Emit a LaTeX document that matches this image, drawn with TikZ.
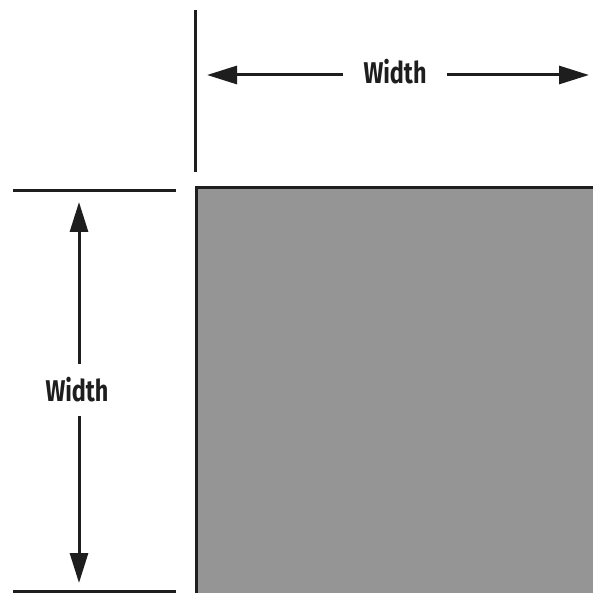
\documentclass[tikz,border=0pt]{standalone}
\usepackage{fontspec}
\setmainfont{Fira Sans}[BoldFont={Fira Sans Bold}]
\newfontfamily\lblfont{Fira Sans Bold}[FakeStretch=0.78]
\usetikzlibrary{arrows.meta}
\definecolor{fillgray}{HTML}{959595}
\definecolor{inkdark}{HTML}{1E1E1E}
\tikzset{
  dimline/.style={draw=inkdark, line width=3pt},
  dimarrow/.style={draw=inkdark, line width=3pt, -{Triangle[length=30pt,width=18pt]}},
  dimlabel/.style={inner sep=0pt, font=\lblfont\fontsize{30}{32}\selectfont, text=inkdark},
}
\begin{document}
\begin{tikzpicture}[x=1pt,y=-1pt]
\useasboundingbox (0,0) rectangle (593,593);
\begin{scope}
\clip (0,0) rectangle (593,593);
\draw[fill=fillgray, draw=inkdark, line width=3pt] (196,188) rectangle (620,620);
\end{scope}
% top dimension
\coordinate (vt) at (195.5,10);
\coordinate (vb) at (195.5,172);
\draw[dimline] (vt) -- (vb);
\node[dimlabel, minimum width=104pt] (wtop) at (395,72) {Width};
\coordinate (tipL) at (207,75);
\coordinate (tipR) at (589,75);
\draw[dimarrow] (wtop.west |- tipL) -- (tipL);
\draw[dimarrow] (wtop.east |- tipR) -- (tipR);
% left dimension
\coordinate (h1a) at (13,191);
\coordinate (h1b) at (176,191);
\coordinate (h2a) at (13,591);
\coordinate (h2b) at (176,591);
\draw[dimline] (h1a) -- (h1b);
\draw[dimline] (h2a) -- (h2b);
\node[dimlabel, minimum height=52pt] (wleft) at (77,390) {Width};
\coordinate (tipT) at (79,202);
\coordinate (tipB) at (79,583);
\draw[dimarrow] (tipT |- wleft.north) -- (tipT);
\draw[dimarrow] (tipB |- wleft.south) -- (tipB);
\end{tikzpicture}
\end{document}
